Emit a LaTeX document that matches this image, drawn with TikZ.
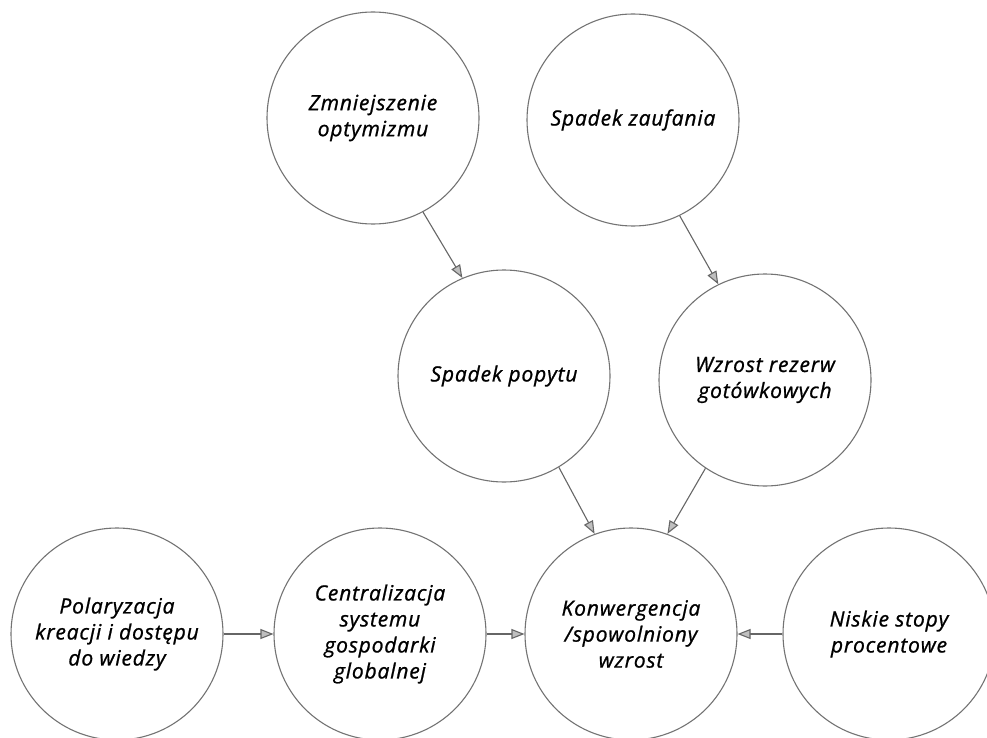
\documentclass[tikz,border=0pt]{standalone}
\usepackage{fontspec}
\setmainfont{Open Sans}[LetterSpace=4,FakeBold=1]
\usetikzlibrary{arrows.meta}

\begin{document}
\begin{tikzpicture}[x=1pt,y=-1pt]
      \tikzset{
        every node/.style={circle,draw=black!55,line width=1.1pt,inner sep=0pt,minimum size=212pt,
          align=center,font=\fontsize{21}{26}\selectfont\itshape},
        every edge/.style={draw=black!60,line width=1.1pt,-{Triangle[length=13pt,width=10pt,fill=black!25]}}
      }
      \useasboundingbox (0,0) rectangle (987,738);

      \node at (373,118) (zmn) {Zmniejszenie\\optymizmu};
      \node at (633,120) (zauf) {Spadek zaufania};
      \node at (504,376) (popyt) {Spadek popytu};
      \node at (765,380) (rezerwy) {Wzrost rezerw\\gotówkowych};
      \node at (117,634) (polar) {Polaryzacja\\kreacji i dostępu\\do wiedzy};
      \node at (380,634) (centr) {Centralizacja\\systemu\\gospodarki\\globalnej};
      \node at (631,634) (konw) {Konwergencja\\/spowolniony\\wzrost};
      \node at (889,634) (stopy) {Niskie stopy\\procentowe};

      \draw (zmn.-62) edge (popyt.113)
            (zauf.-64) edge (rezerwy.116)
            (popyt.-59) edge (konw.110)
            (rezerwy.-124) edge (konw.70)
            (polar) edge (centr)
            (centr) edge (konw)
            (stopy) edge (konw);
\end{tikzpicture}
\end{document}
